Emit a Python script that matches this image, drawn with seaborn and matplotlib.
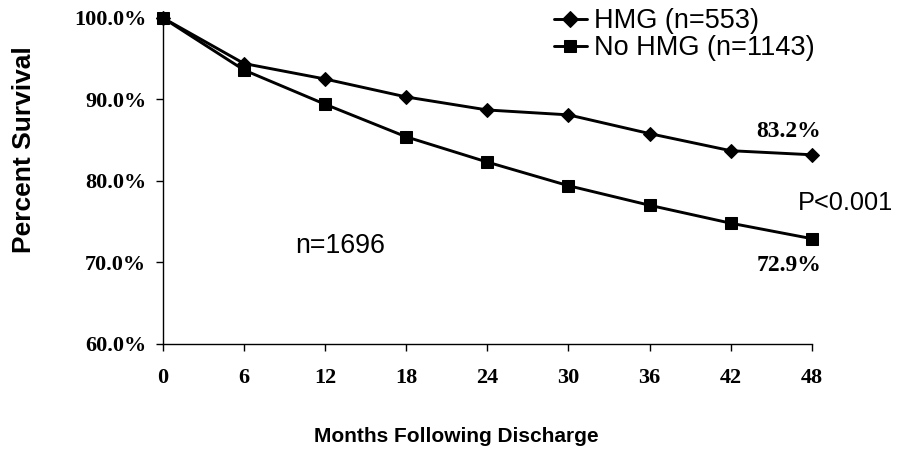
import matplotlib
matplotlib.use("Agg")
import matplotlib.pyplot as plt
import seaborn as sns
import pandas as pd
from matplotlib.ticker import FuncFormatter

months = [0, 6, 12, 18, 24, 30, 36, 42, 48]
hmg = [100.0, 94.4, 92.5, 90.3, 88.7, 88.1, 85.8, 83.7, 83.2]
no_hmg = [100.0, 93.6, 89.4, 85.4, 82.3, 79.4, 77.0, 74.8, 72.9]
series_names = ["HMG (n=553)", "No HMG (n=1143)"]
x_ticks = months
y_ticks = [60, 70, 80, 90, 100]

sns.set_theme(style="white")
plt.rcParams['font.family'] = ['Liberation Sans', 'DejaVu Sans']
plt.rcParams['text.color'] = 'black'
plt.rcParams['axes.labelcolor'] = 'black'

df = pd.DataFrame({
    "Months": months * 2,
    "Survival": hmg + no_hmg,
    "Group": [series_names[0]] * len(months) + [series_names[1]] * len(months),
})

fig = plt.figure(figsize=(8.98, 4.49), dpi=100)
ax = fig.add_axes([0.1815, 0.2345, 0.7225, 0.7255])

sns.lineplot(data=df, x="Months", y="Survival", hue="Group", style="Group",
             markers={series_names[0]: "D", series_names[1]: "s"},
             dashes=False, palette=["black", "black"], linewidth=2.1,
             markersize=8, markeredgecolor="black", ax=ax, legend=True)

lines = ax.get_lines()
lines[0].set_markersize(7.5)
lines[1].set_markersize(9)
for ln in lines:
    ln.set_clip_on(False)

ax.set_xlim(0, 48)
ax.set_ylim(60, 100)
ax.set_xticks(x_ticks)
ax.set_yticks(y_ticks)
ax.yaxis.set_major_formatter(FuncFormatter(lambda v, p: f"{v:.1f}%"))
for sp in ["top", "right"]:
    ax.spines[sp].set_visible(False)
for sp in ["left", "bottom"]:
    ax.spines[sp].set_color("black")
    ax.spines[sp].set_linewidth(1.0)
ax.tick_params(axis="both", direction="out", length=5, width=1, color="black",
               bottom=True, left=True)
ax.tick_params(axis="y", pad=7)
ax.tick_params(axis="x", pad=12.5)
for lab in ax.get_xticklabels() + ax.get_yticklabels():
    lab.set_fontfamily("Liberation Serif")
    lab.set_fontweight("bold")
    lab.set_fontsize(16)
    lab.set_color("black")

ax.set_xlabel("Months Following Discharge", fontsize=15, fontweight="bold",
              color="black", va="center", ha="center")
ax.xaxis.set_label_coords(0.452, -0.286)
ax.set_ylabel("Percent Survival", fontsize=19, fontweight="bold",
              color="black", va="center", ha="center")
ax.yaxis.set_label_coords(-0.214, 0.595)

ax.legend_.remove()
h, l = ax.get_legend_handles_labels()
fig.legend(h, l, loc="upper left", bbox_to_anchor=(0.614, 0.988), frameon=False,
           fontsize=19.5, handlelength=1.2, handletextpad=0.26, labelspacing=0.05,
           borderpad=0.1, borderaxespad=0, labelcolor="black")

ax.text(46.3, 86.0, "83.2%", ha="center", va="center", fontsize=17,
        fontweight="bold", family="Liberation Serif", color="black")
ax.text(46.3, 69.65, "72.9%", ha="center", va="center", fontsize=17,
        fontweight="bold", family="Liberation Serif", color="black")
ax.text(50.5, 77.3, "P<0.001", ha="center", va="center", fontsize=18.3,
        color="black")
ax.text(13.1, 72.0, "n=1696", ha="center", va="center", fontsize=19.3,
        color="black")

fig.savefig("out.png", dpi=100)
